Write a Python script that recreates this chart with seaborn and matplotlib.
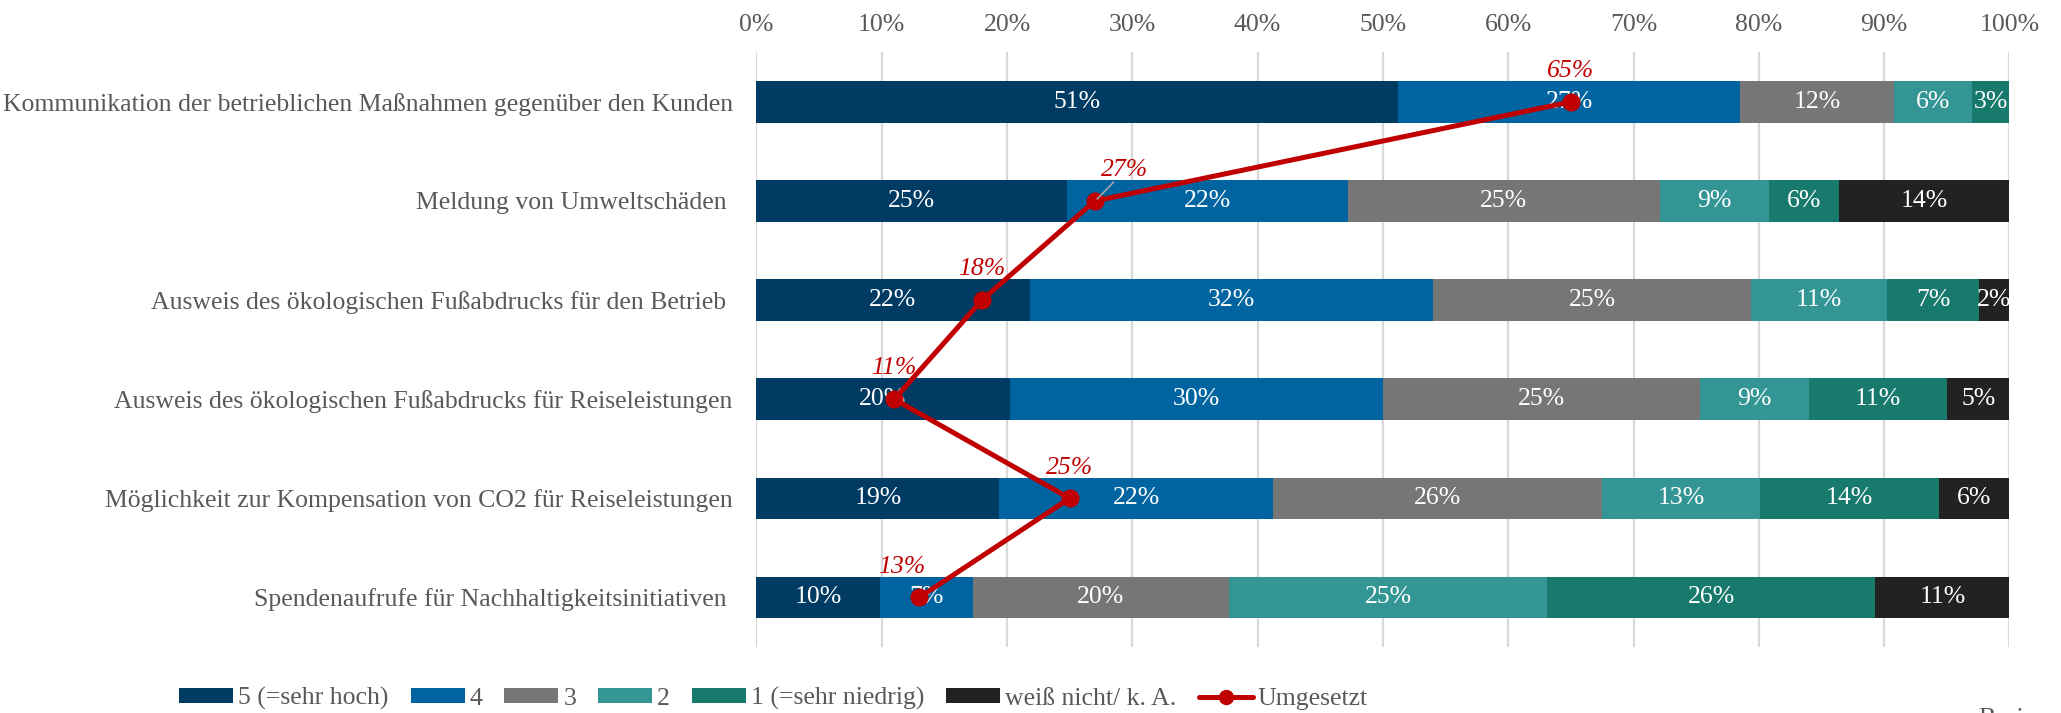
import matplotlib
matplotlib.use("Agg")
import matplotlib.pyplot as plt
import seaborn as sns
import pandas as pd
import numpy as np
from matplotlib.lines import Line2D
from matplotlib.patches import Patch

# ---- data -------------------------------------------------------------
categories = [
    "Kommunikation der betrieblichen Maßnahmen gegenüber den Kunden",
    "Meldung von Umweltschäden ",
    "Ausweis des ökologischen Fußabdrucks für den Betrieb ",
    "Ausweis des ökologischen Fußabdrucks für Reiseleistungen",
    "Möglichkeit zur Kompensation von CO2 für Reiseleistungen",
    "Spendenaufrufe für Nachhaltigkeitsinitiativen ",
]
series_names = ["5 (=sehr hoch)", "4", "3", "2", "1 (=sehr niedrig)", "weiß nicht/ k. A."]
sehr_hoch = [51.2, 24.8, 21.8, 20.2, 19.4, 9.9]
vier = [27.3, 22.4, 32.2, 29.8, 21.8, 7.4]
drei = [12.3, 24.9, 25.4, 25.3, 26.3, 20.4]
zwei = [6.2, 8.7, 10.8, 8.7, 12.6, 25.4]
sehr_niedrig = [3.0, 5.6, 7.4, 11.0, 14.3, 26.2]
weiss_nicht = [0.0, 13.6, 2.4, 5.0, 5.6, 10.7]
umgesetzt = [65, 27, 18, 11, 25, 13]
x_ticks = [0, 10, 20, 30, 40, 50, 60, 70, 80, 90, 100]

colors = ["#003B64", "#0064A0", "#767676", "#339594", "#177A6D", "#222222"]
red = "#C00000"
text_grey = "#595959"

# ---- style ------------------------------------------------------------
sns.set_theme(style="white")
plt.rcParams["font.family"] = ["Liberation Serif", "DejaVu Serif"]
FS = 18.5

fig = plt.figure(figsize=(20.61, 7.13), dpi=100)
ax = fig.add_axes([0.367, 0.0926, 0.608, 0.834])

series = [sehr_hoch, vier, drei, zwei, sehr_niedrig, weiss_nicht]
values = np.array(series)           # shape (segments, categories)
cum = np.cumsum(values, axis=0)

# stacked bars: draw cumulative totals from the outermost segment inwards
for i in range(len(series) - 1, -1, -1):
    df = pd.DataFrame({"cat": categories, "val": cum[i]})
    sns.barplot(data=df, x="val", y="cat", orient="h", color=colors[i],
                saturation=1, width=0.42, edgecolor="none", linewidth=0,
                ax=ax, zorder=2)

# segment labels
for i, seg in enumerate(series):
    for j, v in enumerate(seg):
        if v <= 0:
            continue
        center = cum[i][j] - v / 2
        ax.text(center, j, f"{v:.0f}%", ha="center", va="center",
                color="white", fontsize=FS, zorder=4)

# "Umgesetzt" line
ypos = np.arange(len(categories))
ax.plot(umgesetzt, ypos, color=red, lw=3.6, marker="o", ms=12, zorder=5,
        solid_capstyle="round")
label_dx = [0, 2.4, 0, 0, 0, -1.4]
for j, v in enumerate(umgesetzt):
    ax.text(v + label_dx[j], j - 0.31, f"{v}%", ha="center", va="center",
            color=red, style="italic", fontsize=FS, zorder=6)
# leader line for the second label
ax.plot([umgesetzt[1] + 0.2, umgesetzt[1] + 1.5], [1 - 0.02, 1 - 0.19],
        color="#A6A6A6", lw=1.2, zorder=6)

# axes
ax.set_xlim(0, 100)
ax.set_ylim(len(categories) - 0.5, -0.5)
ax.xaxis.tick_top()
ax.set_xticks(x_ticks)
ax.set_xticklabels([f"{t}%" for t in x_ticks])
ax.tick_params(axis="x", length=0, pad=12, labelsize=FS, colors=text_grey)
ax.tick_params(axis="y", length=0, pad=17, labelsize=FS, colors=text_grey)
ax.set_xlabel("")
ax.set_ylabel("")
ax.grid(axis="x", color="#D9D9D9", lw=1.6, zorder=0)
ax.grid(axis="y", visible=False)
ax.set_axisbelow(True)
for s in ax.spines.values():
    s.set_visible(False)

# legend
handles = [Patch(facecolor=c, edgecolor="none", label=n) for c, n in zip(colors, series_names)]
handles.append(Line2D([0], [0], color=red, lw=3.6, marker="o", ms=10, label="Umgesetzt"))
leg = fig.legend(handles=handles, loc="center left", bbox_to_anchor=(0.087, 0.02),
                 ncol=7, frameon=False, fontsize=FS, handlelength=2.1,
                 handleheight=0.5, handletextpad=0.2, columnspacing=0.85,
                 borderpad=0, borderaxespad=0)
for t in leg.get_texts():
    t.set_color(text_grey)

fig.text(0.96, 0.007, "Basis", ha="left", va="top", fontsize=FS, color=text_grey)

fig.savefig("out.png", dpi=100)
